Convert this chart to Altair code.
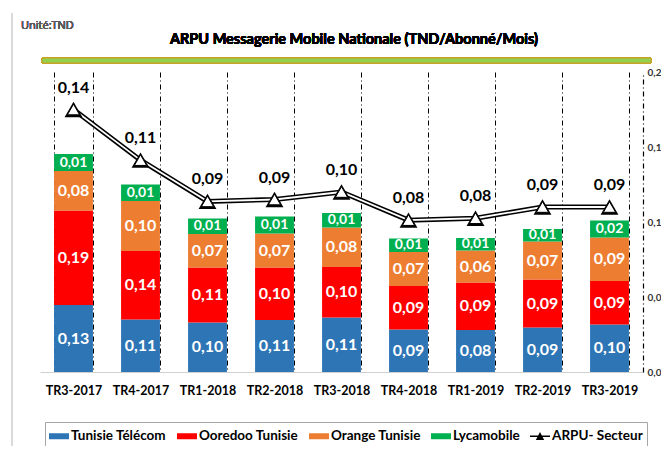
import altair as alt
import pandas as pd

categories = ["TR3-2017", "TR4-2017", "TR1-2018", "TR2-2018", "TR3-2018",
              "TR4-2018", "TR1-2019", "TR2-2019", "TR3-2019"]

series = ["Tunisie Télécom", "Ooredoo Tunisie", "Orange Tunisie", "Lycamobile"]
line_name = "ARPU- Secteur"
colors = ["#2E75B6", "#FF0000", "#ED7D31", "#00B050"]

tunisie_telecom = [0.134, 0.105, 0.099, 0.104, 0.109, 0.085, 0.084, 0.089, 0.095]
ooredoo = [0.189, 0.137, 0.110, 0.105, 0.101, 0.087, 0.095, 0.096, 0.087]
orange = [0.079, 0.100, 0.067, 0.068, 0.079, 0.068, 0.064, 0.076, 0.087]
lycamobile = [0.034, 0.033, 0.031, 0.034, 0.029, 0.027, 0.025, 0.025, 0.034]

tt_labels = ["0,13", "0,11", "0,10", "0,11", "0,11", "0,09", "0,08", "0,09", "0,10"]
oo_labels = ["0,19", "0,14", "0,11", "0,10", "0,10", "0,09", "0,09", "0,09", "0,09"]
or_labels = ["0,08", "0,10", "0,07", "0,07", "0,08", "0,07", "0,06", "0,07", "0,09"]
ly_labels = ["0,01", "0,01", "0,01", "0,01", "0,01", "0,01", "0,01", "0,01", "0,02"]

arpu = [0.140, 0.113, 0.091, 0.092, 0.096, 0.081, 0.082, 0.088, 0.088]
arpu_labels = ["0,14", "0,11", "0,09", "0,09", "0,10", "0,08", "0,08", "0,09", "0,09"]

left_ticks = [0, 0.2, 0.4, 0.6]
right_ticks = [0, 0.04, 0.08, 0.12, 0.16]

# ---- build tables ----
vals = [tunisie_telecom, ooredoo, orange, lycamobile]
lbls = [tt_labels, oo_labels, or_labels, ly_labels]
rows = []
for i, c in enumerate(categories):
    cum = 0.0
    for k, s in enumerate(series):
        v = vals[k][i]
        rows.append({"cat": c, "serie": s, "value": v, "ord": k,
                     "mid": cum + v / 2, "label": lbls[k][i],
                     "fs": 14 if k == 3 else 16})
        cum += v
df = pd.DataFrame(rows)
df_line = pd.DataFrame({"cat": categories, "arpu": arpu, "label": arpu_labels})
df_legend = pd.DataFrame({"serie": series + [line_name], "cat": categories[0], "v": 0.0})

all_series = series + [line_name]
rect_path = "M-1,-0.3H1V0.3H-1Z"
arpu_path = "M-1,-0.07H1V0.07H-1Z M-0.42,0.38L0,-0.42L0.42,0.38Z"

color_scale = alt.Scale(domain=all_series, range=colors + ["black"])
shape_scale = alt.Scale(domain=all_series, range=[rect_path] * 4 + [arpu_path])

comma_expr = "replace(format(datum.value, '.1f'), '.', ',')"
FONT = "Lato"

x_enc = alt.X("cat:N", sort=categories,
              scale=alt.Scale(paddingInner=0.42, paddingOuter=0.21),
              axis=alt.Axis(title=None, labelAngle=0, tickBand="extent",
                            grid=True, gridColor="black", gridDash=[5, 3, 1, 3],
                            gridWidth=1, ticks=False, domainColor="#D0D0D0",
                            domainWidth=1, labelFont=FONT, labelFontWeight="bold",
                            labelFontSize=12.5, labelColor="black", labelPadding=12))

y_left_scale = alt.Scale(domain=[0, 0.6], nice=False)

bars = alt.Chart(df).mark_bar().encode(
    x=x_enc,
    y=alt.Y("value:Q", stack="zero", scale=y_left_scale,
            axis=alt.Axis(title=None, values=left_ticks, labelExpr=comma_expr,
                          grid=True, gridColor="#D9D9D9", gridDash=[8, 4, 2, 4],
                          domain=True, domainColor="black", domainDash=[5, 3, 1, 3],
                          domainWidth=1.2, ticks=False, labelFont=FONT,
                          labelFontWeight="bold", labelFontSize=10,
                          labelColor="#333333", labelPadding=10)),
    color=alt.Color("serie:N", scale=color_scale, legend=alt.Legend(title=None)),
    order=alt.Order("ord:Q"),
)

bar_text = alt.Chart(df).mark_text(color="white", font=FONT, fontWeight="bold",
                                   baseline="middle").encode(
    x=x_enc,
    y=alt.Y("mid:Q", scale=y_left_scale, axis=None),
    text="label:N",
    size=alt.Size("fs:Q", scale=None, legend=None),
)

legend_dummy = alt.Chart(df_legend).mark_point(filled=True, opacity=0).encode(
    x=x_enc,
    y=alt.Y("v:Q", scale=y_left_scale, axis=None),
    color=alt.Color("serie:N", scale=color_scale, legend=alt.Legend(title=None)),
    shape=alt.Shape("serie:N", scale=shape_scale, legend=alt.Legend(title=None)),
)

unit_text = alt.Chart(df_line).mark_text(text="Unité:TND", font="Open Sans",
                                         fontSize=11, fontWeight="normal",
                                         color="#595959", align="left",
                                         baseline="middle").encode(
    x=alt.value(-19), y=alt.value(-46))

title_text = alt.Chart(df_line).mark_text(
    text="ARPU Messagerie Mobile Nationale (TND/Abonné/Mois)", font=FONT,
    fontSize=14.5, fontWeight="bold", color="black", align="center",
    baseline="middle").encode(x=alt.value(314), y=alt.value(-32))

green_band = alt.Chart(df_line).mark_rect(fill="#92D050", stroke="#C9A227",
                                          strokeWidth=1).encode(
    x=alt.value(2), x2=alt.value(611), y=alt.value(-14), y2=alt.value(-9))

frame_line = alt.Chart(df_line).mark_rule(color="#D9D9D9", strokeWidth=1).encode(
    x=alt.value(-28), y=alt.value(-59), y2=alt.value(382))

left_group = alt.layer(bars, bar_text, legend_dummy, unit_text, title_text,
                       green_band, frame_line)

y_right_scale = alt.Scale(domain=[0, 0.16], nice=False)
y_right = alt.Y("arpu:Q", scale=y_right_scale,
                axis=alt.Axis(orient="right", title=None, values=right_ticks,
                              labelExpr=comma_expr, grid=False, domain=True,
                              domainColor="black", domainDash=[5, 3, 1, 3],
                              domainWidth=1.2, ticks=False, labelFont=FONT,
                              labelFontWeight="bold", labelFontSize=10,
                              labelColor="#333333", labelPadding=4))

base_line = alt.Chart(df_line).encode(x=x_enc, y=y_right)
line_outer = base_line.mark_line(color="black", strokeWidth=5)
line_inner = base_line.mark_line(color="white", strokeWidth=1.8)
tri_outer = base_line.mark_point(shape="triangle-up", filled=True, color="black",
                                 size=320, opacity=1)
tri_inner = base_line.mark_point(shape="triangle-up", filled=True, fill="white",
                                 stroke="black", strokeWidth=1, size=150, opacity=1)
line_text = base_line.mark_text(font=FONT, fontSize=16, fontWeight="bold",
                                color="black", dy=-22).encode(text="label:N")

right_group = alt.layer(line_outer, line_inner, tri_outer, tri_inner, line_text)

chart = alt.layer(left_group, right_group).resolve_scale(
    y="independent"
).properties(
    width=603, height=300,
    padding={"left": 32, "top": 64, "right": 18, "bottom": 74},
    autosize=alt.AutoSizeParams(type="none"),
).configure_view(stroke=None).configure_legend(
    orient="none", legendX=5, legendY=350, direction="horizontal",
    strokeColor="#A6A6A6", strokeWidth=1, padding=4, columnPadding=10,
    labelFont=FONT, labelFontWeight="bold", labelFontSize=13.5, labelColor="black",
    labelOffset=2, symbolSize=400, symbolStrokeWidth=0, symbolOpacity=1,
)

chart.save("out.html", embed_options={"renderer": "svg", "actions": False})
